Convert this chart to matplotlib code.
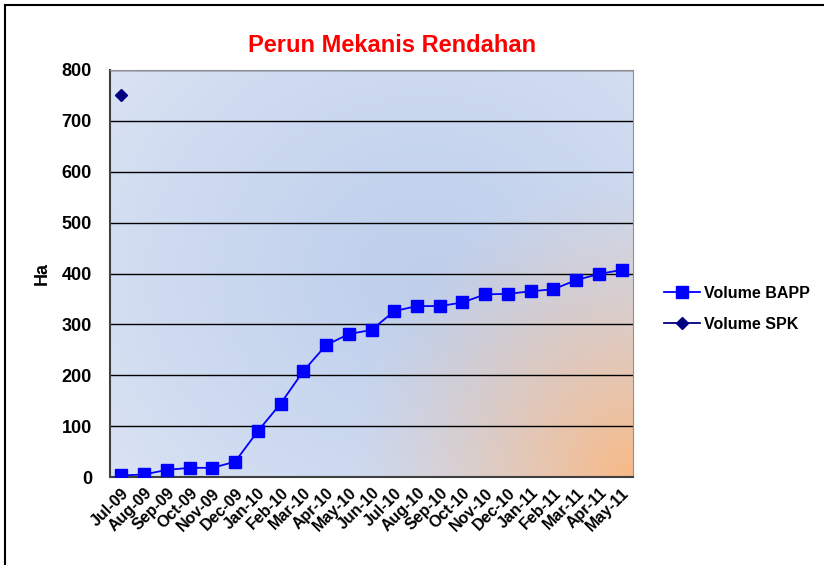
import numpy as np
import matplotlib
matplotlib.use("Agg")
import matplotlib.pyplot as plt
from matplotlib.lines import Line2D

months = ["Jul-09", "Aug-09", "Sep-09", "Oct-09", "Nov-09", "Dec-09", "Jan-10", "Feb-10",
          "Mar-10", "Apr-10", "May-10", "Jun-10", "Jul-10", "Aug-10", "Sep-10", "Oct-10",
          "Nov-10", "Dec-10", "Jan-11", "Feb-11", "Mar-11", "Apr-11", "May-11"]
bapp = [3, 5, 14, 18, 18, 30, 90, 144, 208, 259, 281, 289, 326, 336, 336, 343,
        359, 360, 365, 369, 387, 399, 407]
spk_month = ["Jul-09"]
spk = [750]

plt.rcParams['font.family'] = ['Liberation Sans', 'DejaVu Sans']
plt.rcParams['font.weight'] = 'bold'

fig = plt.figure(figsize=(8.24, 5.65), dpi=100)
ax = fig.add_axes([110/824, 1 - 477/565, 523/824, 407/565])

# background gradient: light lavender-blue with an orange glow bottom right
ny, nx = 200, 300
yy, xx = np.mgrid[0:1:ny*1j, 0:1:nx*1j]
light = np.array([224, 231, 245]) / 255
blue = np.array([190, 207, 236]) / 255
orange = np.array([247, 185, 135]) / 255
d_c = np.sqrt(((xx - 0.6) / 0.8) ** 2 + ((yy - 0.5) / 0.9) ** 2)
w_b = np.clip(1 - d_c, 0, 1) ** 0.7
img = light * (1 - w_b[..., None]) + blue * w_b[..., None]
d_o = np.sqrt(((xx - 1.0) / 0.55) ** 2 + ((yy - 1.0) / 0.75) ** 2)
w_o = np.clip(1 - d_o, 0, 1) ** 1.3
img = img * (1 - w_o[..., None]) + orange * w_o[..., None]
ax.imshow(img, extent=[0, 1, 0, 1], transform=ax.transAxes, aspect='auto', zorder=0, origin='upper')

x = np.arange(len(months))
ax.plot(x, bapp, color='#0000ff', marker='s', markersize=8, linewidth=1.3, label='Volume BAPP', zorder=3)
xs = [months.index(m) for m in spk_month]
ax.plot(xs, spk, color='#000080', marker='D', markersize=6, linewidth=1.3, label='Volume SPK', zorder=3)

ax.set_xlim(-0.5, len(months) - 0.5)
ax.set_ylim(0, 800)
ax.set_yticks(range(0, 801, 100))
ax.yaxis.grid(True, color='black', linewidth=1)
ax.set_axisbelow(True)
for gl in ax.get_ygridlines():
    gl.set_zorder(1)
ax.set_xticks(x)
ax.set_xticklabels(months, rotation=45, ha='right', rotation_mode='anchor', fontsize=11.5, fontweight='bold')
ax.tick_params(axis='y', labelsize=13, length=0, pad=13)
ax.tick_params(axis='x', length=0, pad=6)
for s in ['left', 'bottom']:
    ax.spines[s].set_color('#404040')
    ax.spines[s].set_linewidth(1.5)
for s in ['top', 'right']:
    ax.spines[s].set_color('#909090')
ax.set_ylabel('Ha', fontsize=13, fontweight='bold', labelpad=8)

fig.text(0.476, 1 - 45/565, 'Perun Mekanis Rendahan', color='red', fontsize=17,
         fontweight='bold', ha='center', va='center')

fig.legend(loc='center left', bbox_to_anchor=(650/824, 1 - 309/565), frameon=False,
           fontsize=11.5, handlelength=2.2, labelspacing=1.0, handletextpad=0.3)

# only the top and left edges of the outer frame are visible
fig.lines.append(Line2D([5/824, 5/824], [0, 1 - 5/565], transform=fig.transFigure, color='black', linewidth=1.5))
fig.lines.append(Line2D([5/824, 1], [1 - 5/565, 1 - 5/565], transform=fig.transFigure, color='black', linewidth=1.5))

fig.savefig('out.png', dpi=100)
